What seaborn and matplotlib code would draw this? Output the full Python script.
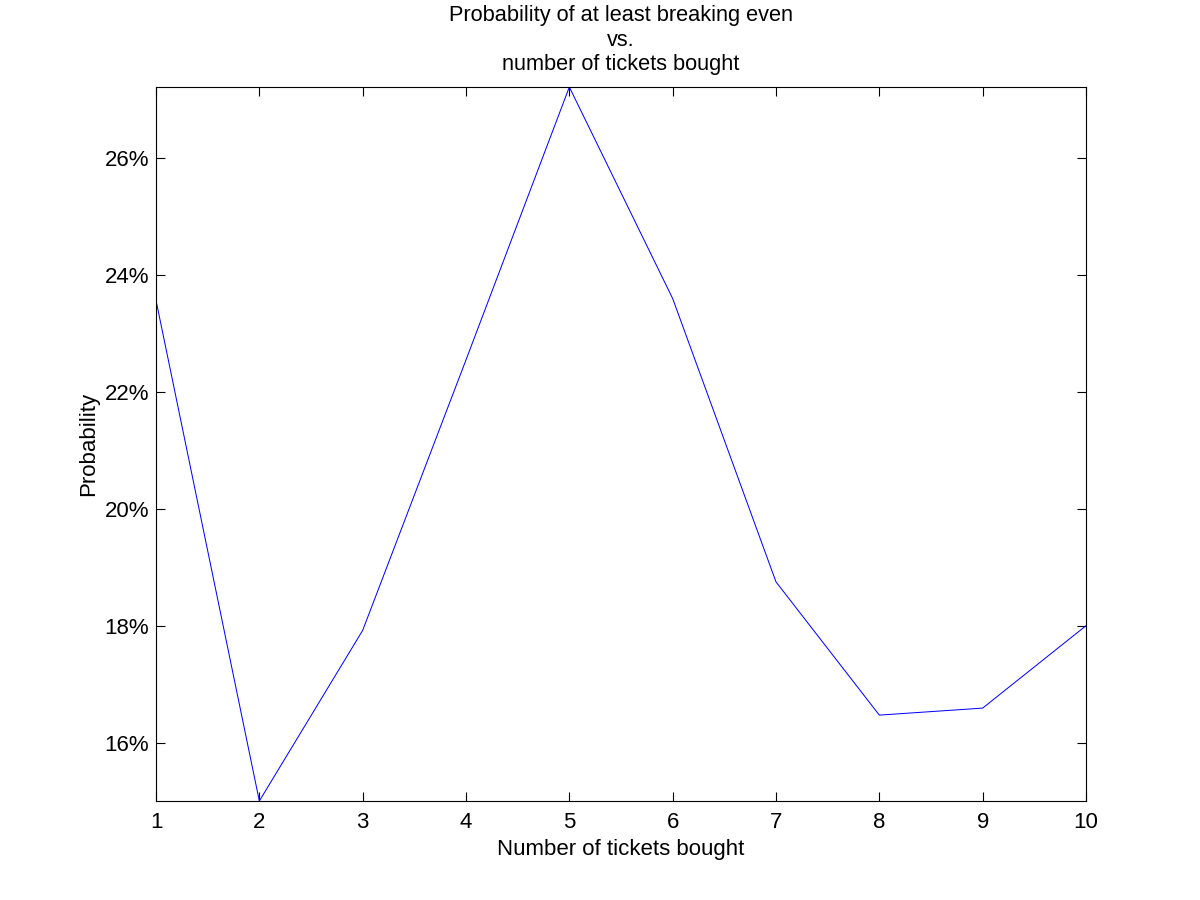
import matplotlib
matplotlib.use("Agg")
import matplotlib.pyplot as plt
import seaborn as sns
import pandas as pd
from matplotlib.ticker import FuncFormatter

# tickets bought vs probability (percent) of at least breaking even
tickets = [1, 2, 3, 4, 5, 6, 7, 8, 9, 10]
probability = [23.57, 15.0, 17.92, 22.55, 27.22, 23.6, 18.75, 16.47, 16.59, 18.0]
y_ticks = [16, 18, 20, 22, 24, 26]

df = pd.DataFrame({'tickets': tickets, 'probability': probability})

sns.set_style('ticks')
plt.rcParams['font.family'] = ['Liberation Sans', 'DejaVu Sans']
plt.rcParams['text.color'] = 'black'
plt.rcParams['axes.labelcolor'] = 'black'

fig = plt.figure(figsize=(12, 9), dpi=100)
ax = fig.add_axes([0.13, 0.11, 0.775, 0.7933])

sns.lineplot(data=df, x='tickets', y='probability', color='#0000ff',
             linewidth=0.72, ax=ax)

ax.set_xlim(min(tickets), max(tickets))
ax.set_ylim(min(probability), max(probability))
ax.set_xticks(tickets)
ax.set_yticks(y_ticks)
ax.yaxis.set_major_formatter(FuncFormatter(lambda v, p: '%d%%' % v))

ax.tick_params(direction='in', length=6.5, width=0.8, top=True, right=True,
               labelsize=16, colors='black', pad=5)
ax.tick_params(axis='x', pad=8)
for s in ax.spines.values():
    s.set_visible(True)
    s.set_linewidth(0.8)
    s.set_color('black')

ax.set_xlabel('Number of tickets bought', fontsize=16, labelpad=4.5)
ax.set_ylabel('Probability', fontsize=16, labelpad=4)
ax.set_title('Probability of at least breaking even\nvs.\nnumber of tickets bought',
             fontsize=15.7, linespacing=1.22, pad=12, color='black')

fig.savefig('out.png', dpi=100, facecolor='white')
